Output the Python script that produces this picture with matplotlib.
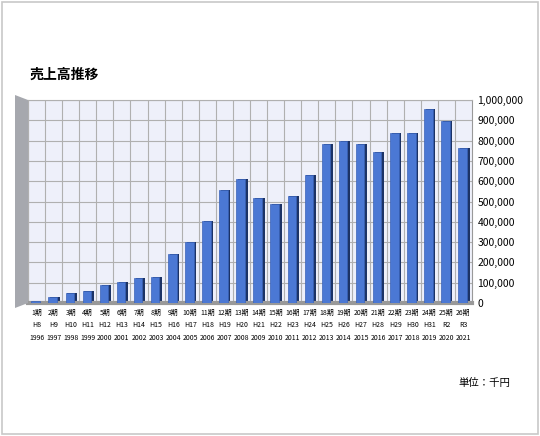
import matplotlib.pyplot as plt
import numpy as np

plt.rcParams['font.family'] = ['Noto Sans CJK JP', 'DejaVu Sans']

periods = ['%d期' % i for i in range(1, 27)]
eras = ['H8', 'H9', 'H10', 'H11', 'H12', 'H13', 'H14', 'H15', 'H16', 'H17', 'H18', 'H19', 'H20',
        'H21', 'H22', 'H23', 'H24', 'H25', 'H26', 'H27', 'H28', 'H29', 'H30', 'H31', 'R2', 'R3']
years = [str(y) for y in range(1996, 2022)]
sales = [8000, 30000, 49000, 61000, 87000, 105000, 125000, 128000, 243000, 300000, 402000,
         558000, 611000, 517000, 489000, 525000, 629000, 785000, 796000, 785000, 742000,
         837000, 837000, 955000, 895000, 765000]

W, H = 540, 436
fig = plt.figure(figsize=(W / 100, H / 100), dpi=100)
fig.patch.set_facecolor('white')
# outer frame
fig.add_artist(plt.Rectangle((0.004, 0.004), 0.992, 0.992, transform=fig.transFigure,
                             fill=False, ec='#c8c8c8', lw=1.2))
# grey side wall of the 3d box
wall = [(15, 95), (28, 100), (28, 303), (15, 308)]
fig.add_artist(plt.Polygon([(px / W, 1 - py / H) for px, py in wall], closed=True,
                           transform=fig.transFigure, fc='#a6a8ae', ec='none'))

ax = fig.add_axes([28 / W, 1 - 303 / H, 444 / W, 203 / H])
ax.set_facecolor('#eef0fa')
x = np.arange(len(sales))
ax.bar(x + 0.08, sales, width=0.55, color='#1c3366', zorder=2)
ax.bar(x - 0.05, sales, width=0.5, color='#4b78d4', ec='#3a62b8', lw=0.5, zorder=3)
ax.set_xlim(-0.5, len(sales) - 0.5)
ax.set_ylim(0, 1000000)
ax.set_yticks(np.arange(0, 1000001, 100000))
ax.set_yticklabels(['{:,}'.format(v) for v in range(0, 1000001, 100000)], fontsize=7.5)
ax.yaxis.tick_right()
ax.set_xticks(x)
ax.set_xticks(x - 0.5, minor=True)
ax.set_xticklabels(['%s\n%s\n%s' % t for t in zip(periods, eras, years)], fontsize=5,
                   linespacing=1.8)
ax.tick_params(length=0, which='both', pad=4)
ax.grid(True, axis='y', color='#b0b0b0', lw=0.8, zorder=0)
ax.grid(True, axis='x', which='minor', color='#b0b0b0', lw=0.8, zorder=0)
for s in ['top', 'left']:
    ax.spines[s].set_color('#b0b0b0')
ax.spines['right'].set_color('#999999')
ax.spines['bottom'].set_color('#999999')
ax.spines['bottom'].set_linewidth(3)

fig.text(30 / W, 1 - 75 / H, '売上高推移', fontsize=10, fontweight='bold', va='center')
fig.text(510 / W, 1 - 383 / H, '単位：千円', fontsize=7.5, ha='right', va='center')

fig.savefig('out.png', dpi=100)
